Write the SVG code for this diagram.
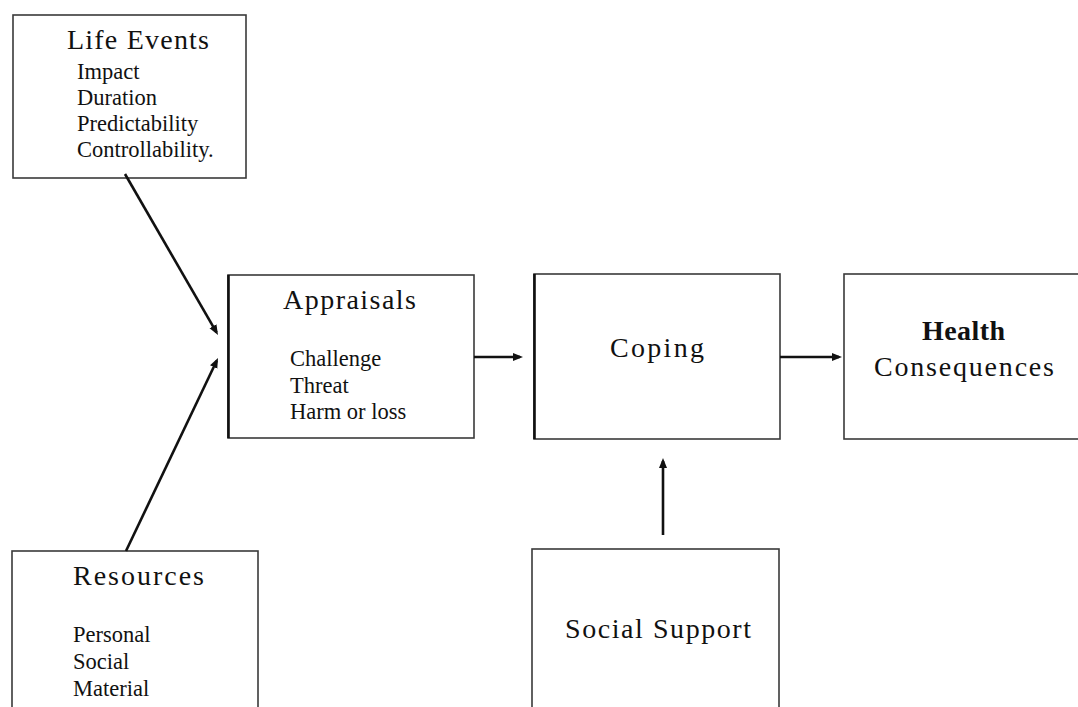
<svg xmlns="http://www.w3.org/2000/svg" width="1078" height="707" viewBox="0 0 1078 707">
  <style>
    .box { fill: #ffffff; stroke: #3a3a3a; stroke-width: 1.6; }
    .title { font-family: "Liberation Serif", "Times New Roman", serif; font-size: 28px; fill: #111; }
    .item { font-family: "Liberation Serif", "Times New Roman", serif; font-size: 22.5px; fill: #111; }
    .conn { stroke: #111; stroke-width: 2.6; fill: none; marker-end: url(#arrow); }
  </style>
  <defs>
    <marker id="arrow" markerUnits="userSpaceOnUse" markerWidth="12" markerHeight="10" refX="7" refY="4" orient="auto">
      <path d="M0,0 L10,4 L0,8 Z" fill="#111"/>
    </marker>
  </defs>
  <rect width="1078" height="707" fill="#ffffff"/>

  <g id="life-events">
    <rect class="box" x="13" y="15" width="233" height="163"/>
    <text class="title" x="67" y="49" textLength="142" lengthAdjust="spacing">Life Events</text>
    <text class="item" x="77" y="79">Impact</text>
    <text class="item" x="77" y="105">Duration</text>
    <text class="item" x="77" y="131">Predictability</text>
    <text class="item" x="77" y="157">Controllability.</text>
  </g>

  <g id="appraisals">
    <rect class="box" x="228" y="275" width="246" height="163"/>
    <line x1="228.5" y1="275" x2="228.5" y2="438" stroke="#111" stroke-width="2.6"/>
    <text class="title" x="283" y="309" textLength="133" lengthAdjust="spacing">Appraisals</text>
    <text class="item" x="290" y="366">Challenge</text>
    <text class="item" x="290" y="393">Threat</text>
    <text class="item" x="290" y="419">Harm or loss</text>
  </g>

  <g id="coping">
    <rect class="box" x="534" y="274" width="246" height="165"/>
    <line x1="534.5" y1="274" x2="534.5" y2="439" stroke="#111" stroke-width="2.6"/>
    <text class="title" x="610" y="357" textLength="94" lengthAdjust="spacing">Coping</text>
  </g>

  <g id="health-consequences">
    <rect class="box" x="844" y="274" width="250" height="165"/>
    <text class="title" x="922" y="340" font-weight="bold" textLength="83" lengthAdjust="spacing">Health</text>
    <text class="title" x="874" y="376" textLength="180" lengthAdjust="spacing">Consequences</text>
  </g>

  <g id="resources">
    <rect class="box" x="12" y="551" width="246" height="170"/>
    <text class="title" x="73" y="585" textLength="131" lengthAdjust="spacing">Resources</text>
    <text class="item" x="73" y="642">Personal</text>
    <text class="item" x="73" y="669">Social</text>
    <text class="item" x="73" y="696">Material</text>
  </g>

  <g id="social-support">
    <rect class="box" x="532" y="549" width="247" height="172"/>
    <text class="title" x="565" y="638" textLength="186" lengthAdjust="spacing">Social Support</text>
  </g>

  <g id="connectors">
    <line class="conn" x1="125" y1="174" x2="216.5" y2="332.4"/>
    <line class="conn" x1="126" y1="551" x2="216.7" y2="360.7"/>
    <line class="conn" x1="474" y1="357" x2="520" y2="357"/>
    <line class="conn" x1="780" y1="357" x2="839" y2="357"/>
    <line class="conn" x1="663" y1="535" x2="663" y2="461"/>
  </g>
</svg>
